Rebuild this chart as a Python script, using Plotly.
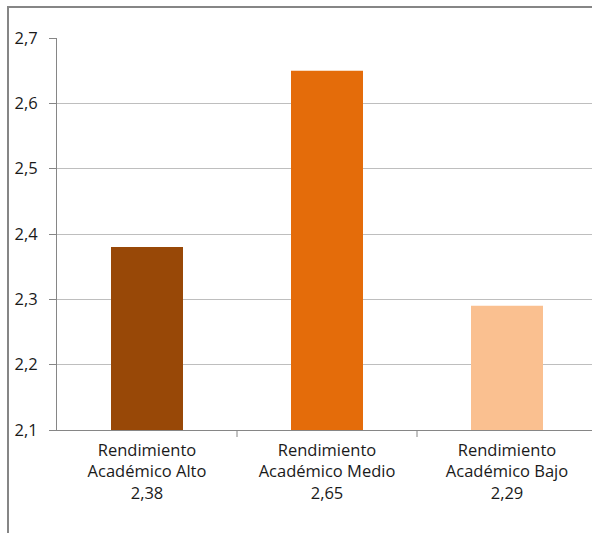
import plotly.graph_objects as go

categories = ["Rendimiento<br>Académico Alto<br>2,38",
              "Rendimiento<br>Académico Medio<br>2,65",
              "Rendimiento<br>Académico Bajo<br>2,29"]
values = [2.38, 2.65, 2.29]
colors = ["#984807", "#E46C0A", "#FAC090"]
y_ticks = [2.1, 2.2, 2.3, 2.4, 2.5, 2.6, 2.7]

W, H = 592, 533
ml, mr, mt, mb = 57, 0, 38, 103
pw = W - ml - mr
ph = H - mt - mb

fig = go.Figure(go.Bar(x=[0, 1, 2], y=values, marker=dict(color=colors, line=dict(width=0)),
                       width=0.4))

font = dict(family="Open Sans, Liberation Sans, sans-serif", size=16.5, color="#1a1a1a")
fig.update_layout(
    width=W, height=H, margin=dict(l=ml, r=mr, t=mt, b=mb),
    paper_bgcolor="white", plot_bgcolor="white", separators=",.",
    showlegend=False, font=font,
    xaxis=dict(range=[-0.5, -0.5 + pw / 180.0], tickmode="array", tickvals=[0, 1, 2],
               ticktext=categories, showgrid=False, showline=True, linecolor="#868686",
               linewidth=1, ticks="", tickfont=font, zeroline=False,
               ticklabelstandoff=5),
    yaxis=dict(range=[2.1, 2.7], tickvals=y_ticks, tickformat=".1f", showgrid=True,
               gridcolor="#BEBEBE", gridwidth=1, showline=True, linecolor="#868686",
               linewidth=1, ticks="outside", ticklen=7, tickcolor="#868686",
               tickfont=font, zeroline=False, ticklabelstandoff=8),
)

# tick marks at category boundaries on x axis
for b in [0.5, 1.5]:
    fig.add_shape(type="line", xref="x", yref="paper", x0=b, x1=b, y0=0, y1=-7 / ph,
                  line=dict(color="#868686", width=1))

# outer chart border (clipped at right/bottom)
fig.add_shape(type="rect", xref="paper", yref="paper",
              x0=(8 - ml) / pw, x1=(W + 20 - ml) / pw,
              y0=-(H + 20 - (H - mb)) / ph, y1=((H - mb) - 7) / ph,
              line=dict(color="#868686", width=2), fillcolor="rgba(0,0,0,0)", layer="below")

fig.write_html("out.html")
